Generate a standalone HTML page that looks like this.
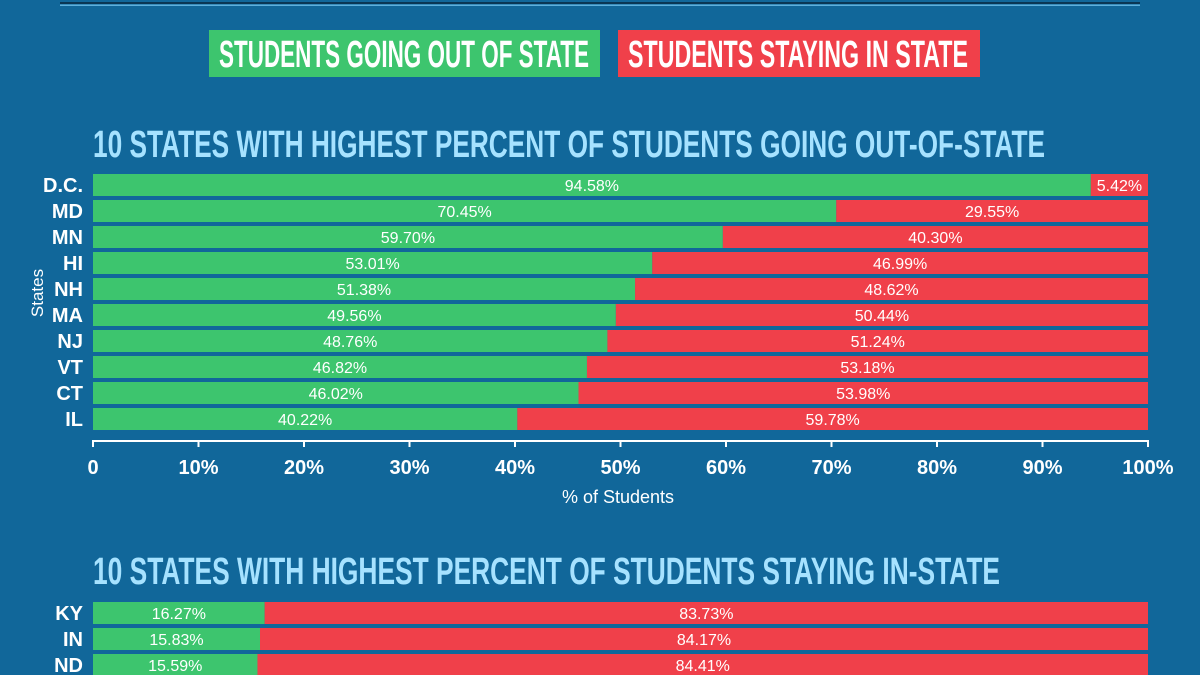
<!DOCTYPE html>
<html><head><meta charset="utf-8"><style>
html,body{margin:0;padding:0;background:#10679a;}
svg{display:block;}
.cond{font-family:"Liberation Sans Narrow","Liberation Sans",sans-serif;font-weight:bold;}
.val{font-family:"Liberation Sans",sans-serif;font-size:16px;fill:#fff;}
</style></head><body>
<svg id="chart" width="1200" height="675" viewBox="0 0 1200 675" xmlns="http://www.w3.org/2000/svg">
<rect x="0" y="0" width="1200" height="675" fill="#11679a"/>
<rect x="60" y="2" width="1080" height="2" fill="#0a3654"/>
<rect x="60" y="4.5" width="1080" height="1.5" fill="#5fb0dc"/>
<g>
<rect x="209" y="30" width="391" height="47" fill="#3dc56e"/>
<text class="cond" x="219" y="67" font-size="38" fill="#fff" textLength="370" lengthAdjust="spacingAndGlyphs">STUDENTS GOING OUT OF STATE</text>
<rect x="618" y="30" width="362" height="47" fill="#f0404a"/>
<text class="cond" x="628" y="67" font-size="38" fill="#fff" textLength="340" lengthAdjust="spacingAndGlyphs">STUDENTS STAYING IN STATE</text>
</g>
<text class="cond" x="93" y="157" font-size="38" fill="#a6e2ff" textLength="952" lengthAdjust="spacingAndGlyphs" style="paint-order:stroke" stroke="#0b3d5c" stroke-width="0">10 STATES WITH HIGHEST PERCENT OF STUDENTS GOING OUT-OF-STATE</text>
<text class="cond" x="93" y="584" font-size="38" fill="#a6e2ff" textLength="907" lengthAdjust="spacingAndGlyphs">10 STATES WITH HIGHEST PERCENT OF STUDENTS STAYING IN-STATE</text>
<text font-family="Liberation Sans, sans-serif" font-size="17" fill="#fff" text-anchor="middle" transform="translate(43,293) rotate(-90)">States</text>
<text font-family="Liberation Sans, sans-serif" font-size="18" fill="#fff" text-anchor="middle" x="618" y="503">% of Students</text>
<g id="c1"></g><g id="c2"></g><g id="axis"></g>
</svg>
<script>
const states1 = ["D.C.","MD","MN","HI","NH","MA","NJ","VT","CT","IL"];
const outState1 = [94.58,70.45,59.70,53.01,51.38,49.56,48.76,46.82,46.02,40.22];
const inState1 = [5.42,29.55,40.30,46.99,48.62,50.44,51.24,53.18,53.98,59.78];
const states2 = ["KY","IN","ND"];
const outState2 = [16.27,15.83,15.59];
const inState2 = [83.73,84.17,84.41];
const ticks = [0,10,20,30,40,50,60,70,80,90,100];
const tickLabels = ["0","10%","20%","30%","40%","50%","60%","70%","80%","90%","100%"];

const NS="http://www.w3.org/2000/svg";
const X0=93, X1=1148;
function xs(v){return X0+(X1-X0)*v/100;}
function mk(tag,attrs,parent){const e=document.createElementNS(NS,tag);for(const k in attrs)e.setAttribute(k,attrs[k]);parent.appendChild(e);return e;}

function drawChart(g,states,outv,inv,top){
  states.forEach((s,i)=>{
    const y=top+i*26, h=22;
    const lab=mk("text",{x:83,y:y+18,"text-anchor":"end",class:"cond","font-size":20,fill:"#fff"},g);
    
    
    lab.textContent=s;
    const xm=xs(outv[i]);
    const r1=mk("rect",{x:X0,y:y,width:xm-X0,height:h,fill:"#3dc56e"},g);
    
    
    const r2=mk("rect",{x:xm,y:y,width:xs(outv[i]+inv[i])-xm,height:h,fill:"#f0404a"},g);
    
    
    const t1=mk("text",{x:(X0+xm)/2,y:y+17,"text-anchor":"middle",class:"val"},g);
    
    
    t1.textContent=outv[i].toFixed(2)+"%";
    const xe=xs(outv[i]+inv[i]);
    const t2=mk("text",{x:(xm+xe)/2,y:y+17,"text-anchor":"middle",class:"val"},g);
    
    
    t2.textContent=inv[i].toFixed(2)+"%";
  });
}
drawChart(document.getElementById("c1"),states1,outState1,inState1,174);
drawChart(document.getElementById("c2"),states2,outState2,inState2,602);

const ax=document.getElementById("axis");
const line=mk("rect",{x:X0,y:440,width:X1-X0+1,height:2,fill:"#fff"},ax);


ticks.forEach((t,i)=>{
  const tk=mk("rect",{x:xs(t)-1,y:440,width:2,height:7,fill:"#fff"},ax);
  
  
  const tl=mk("text",{x:xs(t),y:474,"text-anchor":"middle",class:"cond","font-size":20,fill:"#fff"},ax);
  
  
  tl.textContent=tickLabels[i];
});
</script>
</body></html>
